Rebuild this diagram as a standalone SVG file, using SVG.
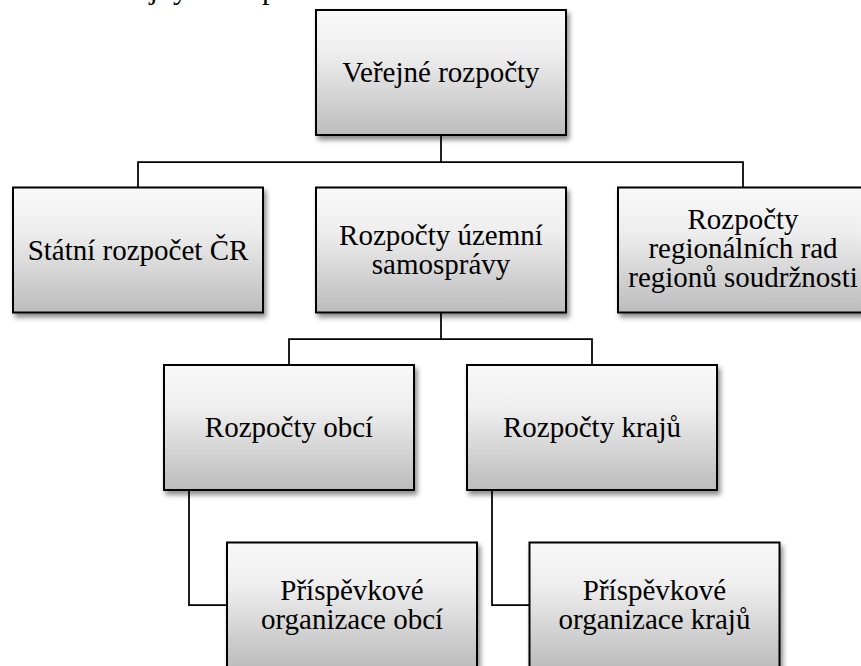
<svg xmlns="http://www.w3.org/2000/svg" width="861" height="666" viewBox="0 0 861 666">
  <defs>
    <linearGradient id="boxFill" x1="0" y1="0" x2="0" y2="1">
      <stop offset="0" stop-color="#f9f9f9"/>
      <stop offset="0.35" stop-color="#eeeeee"/>
      <stop offset="1" stop-color="#bcbcbc"/>
    </linearGradient>
    <filter id="shadow" x="-10%" y="-10%" width="130%" height="140%">
      <feDropShadow dx="2.5" dy="4" stdDeviation="2.5" flood-color="#000000" flood-opacity="0.45"/>
    </filter>
  </defs>
  <style>
    .box { fill: url(#boxFill); stroke: #000000; stroke-width: 2; filter: url(#shadow); }
    .lbl { font-family: "Liberation Serif", "Times New Roman", serif; font-size: 29px; fill: #000000; text-anchor: middle; }
    .top { font-family: "Liberation Serif", "Times New Roman", serif; font-size: 30px; fill: #000000; }
    .conn { fill: none; stroke: #000000; stroke-width: 1.75; }
  </style>
  <rect x="0" y="0" width="861" height="666" fill="#ffffff"/>

  <text class="top" x="98" y="-1.5">veřejných rozpočtů</text>

  <g id="connectors">
    <path class="conn" d="M441 135 V162"/>
    <path class="conn" d="M138 187.5 V162 H743 V187.5"/>
    <path class="conn" d="M441 312.5 V339"/>
    <path class="conn" d="M289 365 V339 H592 V365"/>
    <path class="conn" d="M189 490 V605 H227"/>
    <path class="conn" d="M492 490 V605 H529.5"/>
  </g>

  <g id="verejne-rozpocty">
    <rect class="box" x="316" y="10" width="250" height="125"/>
    <text class="lbl" x="441" y="82">Veřejné rozpočty</text>
  </g>

  <g id="statni-rozpocet">
    <rect class="box" x="13" y="187.5" width="250" height="125"/>
    <text class="lbl" x="138" y="259.5">Státní rozpočet ČR</text>
  </g>

  <g id="uzemni-samosprava">
    <rect class="box" x="316" y="187.5" width="250" height="125"/>
    <text class="lbl" x="441" y="244.5">Rozpočty územní</text>
    <text class="lbl" x="441" y="273.5">samosprávy</text>
  </g>

  <g id="regionalni-rady">
    <rect class="box" x="618" y="187.5" width="250" height="125"/>
    <text class="lbl" x="743" y="228.5">Rozpočty</text>
    <text class="lbl" x="743" y="257.5">regionálních rad</text>
    <text class="lbl" x="743" y="286.5">regionů soudržnosti</text>
  </g>

  <g id="rozpocty-obci">
    <rect class="box" x="164" y="365" width="250" height="125"/>
    <text class="lbl" x="289" y="437">Rozpočty obcí</text>
  </g>

  <g id="rozpocty-kraju">
    <rect class="box" x="467" y="365" width="250" height="125"/>
    <text class="lbl" x="592" y="437">Rozpočty krajů</text>
  </g>

  <g id="po-obci">
    <rect class="box" x="227" y="542.5" width="250" height="125"/>
    <text class="lbl" x="352" y="599.5">Příspěvkové</text>
    <text class="lbl" x="352" y="628.5">organizace obcí</text>
  </g>

  <g id="po-kraju">
    <rect class="box" x="529.5" y="542.5" width="250" height="125"/>
    <text class="lbl" x="654.5" y="599.5">Příspěvkové</text>
    <text class="lbl" x="654.5" y="628.5">organizace krajů</text>
  </g>
</svg>
